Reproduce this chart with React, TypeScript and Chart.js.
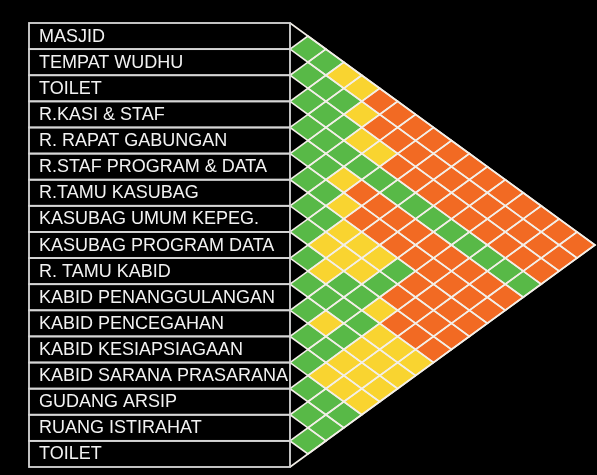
import { useEffect, useRef } from "react";
import { Chart, registerables } from "chart.js";

Chart.register(...registerables);

const rooms: string[] = [
  "MASJID",
  "TEMPAT WUDHU",
  "TOILET",
  "R.KASI & STAF",
  "R. RAPAT GABUNGAN",
  "R.STAF PROGRAM & DATA",
  "R.TAMU KASUBAG",
  "KASUBAG UMUM KEPEG.",
  "KASUBAG PROGRAM DATA",
  "R. TAMU KABID",
  "KABID PENANGGULANGAN",
  "KABID PENCEGAHAN",
  "KABID KESIAPSIAGAAN",
  "KABID SARANA PRASARANA",
  "GUDANG ARSIP",
  "RUANG ISTIRAHAT",
  "TOILET",
];

// Relation of room i with rooms i+1 ... last (G = dekat, Y = sedang, O = jauh)
const relations: string[] = [
  "GGYYOOOOOOOOOOOO",
  "GGGYOOOOOOOOOOO",
  "GGGYYOOOOOOOOO",
  "GGGGGGGGGGGGG",
  "GGYOOOOOOOOO",
  "GGYOOOOOOOO",
  "GGYYYGOOOO",
  "GYYYGOOOO",
  "GYGGYOOO",
  "GGGGYYY",
  "GYGYYY",
  "GGYYY",
  "GYYY",
  "GGG",
  "GG",
  "G",
];

const relationColors: Record<string, string> = {
  G: "#58b947",
  Y: "#f9d430",
  O: "#f26a23",
};

type Cell = { x: number; y: number; code: string };

export default function App() {
  const ref = useRef<HTMLCanvasElement | null>(null);

  useEffect(() => {
    if (!ref.current) return;
    const n = rooms.length;
    const cells: Cell[] = [];
    relations.forEach((row, i) => {
      row.split("").forEach((code, k) => {
        const j = i + 1 + k;
        cells.push({ x: j - i, y: i + j + 1, code });
      });
    });

    const bgPlugin = {
      id: "bg",
      beforeDraw(chart: any) {
        const ctx = chart.ctx;
        ctx.save();
        ctx.fillStyle = "#000";
        ctx.fillRect(0, 0, chart.width, chart.height);
        ctx.restore();
      },
    };

    const diamondPlugin = {
      id: "diamonds",
      afterDatasetsDraw(chart: any) {
        const ctx = chart.ctx;
        const xs = chart.scales.x;
        const ys = chart.scales.y;
        const ds = chart.data.datasets[0].data as Cell[];
        ctx.save();
        ctx.lineJoin = "miter";
        for (const c of ds) {
          const pts = [
            [xs.getPixelForValue(c.x - 1), ys.getPixelForValue(c.y)],
            [xs.getPixelForValue(c.x), ys.getPixelForValue(c.y - 1)],
            [xs.getPixelForValue(c.x + 1), ys.getPixelForValue(c.y)],
            [xs.getPixelForValue(c.x), ys.getPixelForValue(c.y + 1)],
          ];
          ctx.beginPath();
          ctx.moveTo(pts[0][0], pts[0][1]);
          for (let k = 1; k < 4; k++) ctx.lineTo(pts[k][0], pts[k][1]);
          ctx.closePath();
          ctx.fillStyle = relationColors[c.code];
          ctx.fill();
        }
        ctx.strokeStyle = "#f3efe8";
        ctx.lineWidth = 1.6;
        for (const c of ds) {
          ctx.beginPath();
          ctx.moveTo(xs.getPixelForValue(c.x - 1), ys.getPixelForValue(c.y));
          ctx.lineTo(xs.getPixelForValue(c.x), ys.getPixelForValue(c.y - 1));
          ctx.lineTo(xs.getPixelForValue(c.x + 1), ys.getPixelForValue(c.y));
          ctx.lineTo(xs.getPixelForValue(c.x), ys.getPixelForValue(c.y + 1));
          ctx.closePath();
          ctx.stroke();
        }
        // outer outline of triangle
        ctx.beginPath();
        ctx.moveTo(xs.getPixelForValue(0), ys.getPixelForValue(0));
        ctx.lineTo(xs.getPixelForValue(n), ys.getPixelForValue(n));
        ctx.lineTo(xs.getPixelForValue(0), ys.getPixelForValue(2 * n));
        ctx.stroke();
        ctx.restore();
      },
    };

    const labelPlugin = {
      id: "roomLabels",
      afterDraw(chart: any) {
        const ctx = chart.ctx;
        const ys = chart.scales.y;
        const right = chart.chartArea.left;
        const left = 29;
        ctx.save();
        ctx.strokeStyle = "#d6d6d6";
        ctx.lineWidth = 1.8;
        ctx.fillStyle = "#f2f2f2";
        ctx.font = '18px "Liberation Sans", Arial, sans-serif';
        ctx.textAlign = "left";
        ctx.textBaseline = "alphabetic";
        rooms.forEach((name, i) => {
          const top = ys.getPixelForValue(2 * i);
          const bottom = ys.getPixelForValue(2 * i + 2);
          ctx.strokeRect(left, top, right - left, bottom - top);
          const mid = ys.getPixelForValue(2 * i + 1);
          ctx.fillText(name, left + 10, mid + 5.5, right - left - 12);
        });
        ctx.restore();
      },
    };

    const chart = new Chart(ref.current, {
      type: "scatter",
      data: {
        datasets: [
          {
            data: cells as any,
            pointRadius: 0,
            pointHoverRadius: 0,
          },
        ],
      },
      options: {
        animation: false,
        responsive: false,
        events: [],
        layout: { padding: { left: 290, top: 23, right: 2, bottom: 8 } },
        plugins: { legend: { display: false }, tooltip: { enabled: false } },
        scales: {
          x: { type: "linear", min: 0, max: n, display: false },
          y: { type: "linear", min: 0, max: 2 * n, reverse: true, display: false },
        },
      },
      plugins: [bgPlugin, diamondPlugin, labelPlugin],
    });
    return () => chart.destroy();
  }, []);

  return (
    <div
      style={{
        position: "fixed",
        left: 0,
        top: 0,
        width: 597,
        height: 475,
        background: "#000",
      }}
    >
      <canvas ref={ref} width={597} height={475} style={{ display: "block" }} />
    </div>
  );
}
